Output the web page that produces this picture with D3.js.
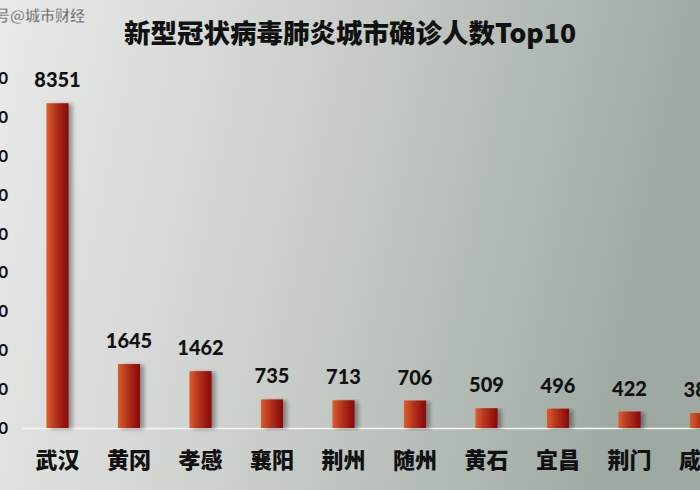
<!DOCTYPE html>
<html>
<head>
<meta charset="utf-8">
<script src="https://cdn.jsdelivr.net/npm/d3@7"></script>
<style>
html,body{margin:0;padding:0;overflow:hidden;background:#fff;}
svg{display:block;}
</style>
</head>
<body>
<svg id="chart" width="700" height="490"></svg>
<script>
const categories = ["武汉","黄冈","孝感","襄阳","荆州","随州","黄石","宜昌","荆门","咸宁"];
const values = [8351,1645,1462,735,713,706,509,496,422,384];
const yTicks = [0,1000,2000,3000,4000,5000,6000,7000,8000,9000];
const titleText = "新型冠状病毒肺炎城市确诊人数Top10";
const watermark = "头条号@城市财经";

const W = 700, H = 490;
const svg = d3.select("#chart");
const defs = svg.append("defs");

const bg = defs.append("linearGradient").attr("id","bg").attr("x1","0").attr("y1","0").attr("x2","1").attr("y2","0.15");
bg.append("stop").attr("offset","0%").attr("stop-color","#e9eae9");
bg.append("stop").attr("offset","45%").attr("stop-color","#cdd1ce");
bg.append("stop").attr("offset","100%").attr("stop-color","#9ea9a2");

const bar = defs.append("linearGradient").attr("id","bar").attr("x1","0").attr("y1","0").attr("x2","1").attr("y2","0");
bar.append("stop").attr("offset","0%").attr("stop-color","#d9602c");
bar.append("stop").attr("offset","45%").attr("stop-color","#b3301c");
bar.append("stop").attr("offset","100%").attr("stop-color","#870707");

const sh = defs.append("filter").attr("id","shadow").attr("x","-30%").attr("y","-5%").attr("width","180%").attr("height","115%");
sh.append("feGaussianBlur").attr("in","SourceAlpha").attr("stdDeviation","2.2");
sh.append("feOffset").attr("dx","4").attr("dy","1").attr("result","b");
sh.append("feComponentTransfer").append("feFuncA").attr("type","linear").attr("slope","0.35");
const mg = sh.append("feMerge");
mg.append("feMergeNode");
mg.append("feMergeNode").attr("in","SourceGraphic");

svg.append("rect").attr("width",W).attr("height",H).attr("fill","url(#bg)");

const x = d3.scaleBand().domain(categories).range([21.75, 736.75]).paddingInner(0.69).paddingOuter(0.345);
const y = d3.scaleLinear().domain([0,9000]).range([428,78]);

// y axis labels (cut off at the left edge, as in the reference)
const yAxis = svg.append("g").attr("transform","translate(8,0)")
  .call(d3.axisLeft(y).tickValues(yTicks).tickSize(0).tickPadding(0).tickFormat(d3.format("d")));
yAxis.select(".domain").remove();
yAxis.selectAll("text").attr("font-family","Lato, 'Noto Sans', sans-serif").attr("font-weight","bold")
  .attr("font-size","17px").attr("fill","#111");

// baseline
svg.append("line").attr("x1",22).attr("x2",W).attr("y1",428.5).attr("y2",428.5)
  .attr("stroke","#f4f5f4").attr("stroke-width",1.5);

// bars
svg.append("g").selectAll("rect").data(values).join("rect")
  .attr("x",(d,i)=>x(categories[i]))
  .attr("width",x.bandwidth())
  .attr("y",d=>y(d))
  .attr("height",d=>y(0)-y(d))
  .attr("fill","url(#bar)")
  .attr("filter","url(#shadow)");

// value labels
svg.append("g").selectAll("text").data(values).join("text")
  .attr("x",(d,i)=>x(categories[i])+x.bandwidth()/2)
  .attr("y",d=>y(d)-16)
  .attr("text-anchor","middle")
  .attr("font-family","Lato, 'Noto Sans', sans-serif").attr("font-weight","900")
  .attr("font-size","20px").attr("fill","#111")
  .text(d=>d);

// category labels
const xAxis = svg.append("g").attr("transform","translate(0,428)")
  .call(d3.axisBottom(x).tickSize(0).tickPadding(0));
xAxis.select(".domain").remove();
xAxis.selectAll("text").attr("dy",null).attr("y",40)
  .attr("font-family","'Noto Sans CJK SC', sans-serif").attr("font-weight","900")
  .attr("font-size","22px").attr("fill","#111");

// title
svg.append("text").attr("x",350).attr("y",43).attr("text-anchor","middle")
  .attr("font-family","'Noto Sans CJK SC', sans-serif").attr("font-weight","900")
  .attr("font-size","26.5px").attr("fill","#111").text(titleText);

// watermark
svg.append("text").attr("x",85).attr("y",21).attr("text-anchor","end")
  .attr("font-family","'Noto Sans CJK SC', sans-serif").attr("font-weight","bold")
  .attr("font-size","15px").attr("fill","#6f7170").attr("stroke","#fff").attr("stroke-width",0.3)
  .text(watermark);
</script>
</body>
</html>
